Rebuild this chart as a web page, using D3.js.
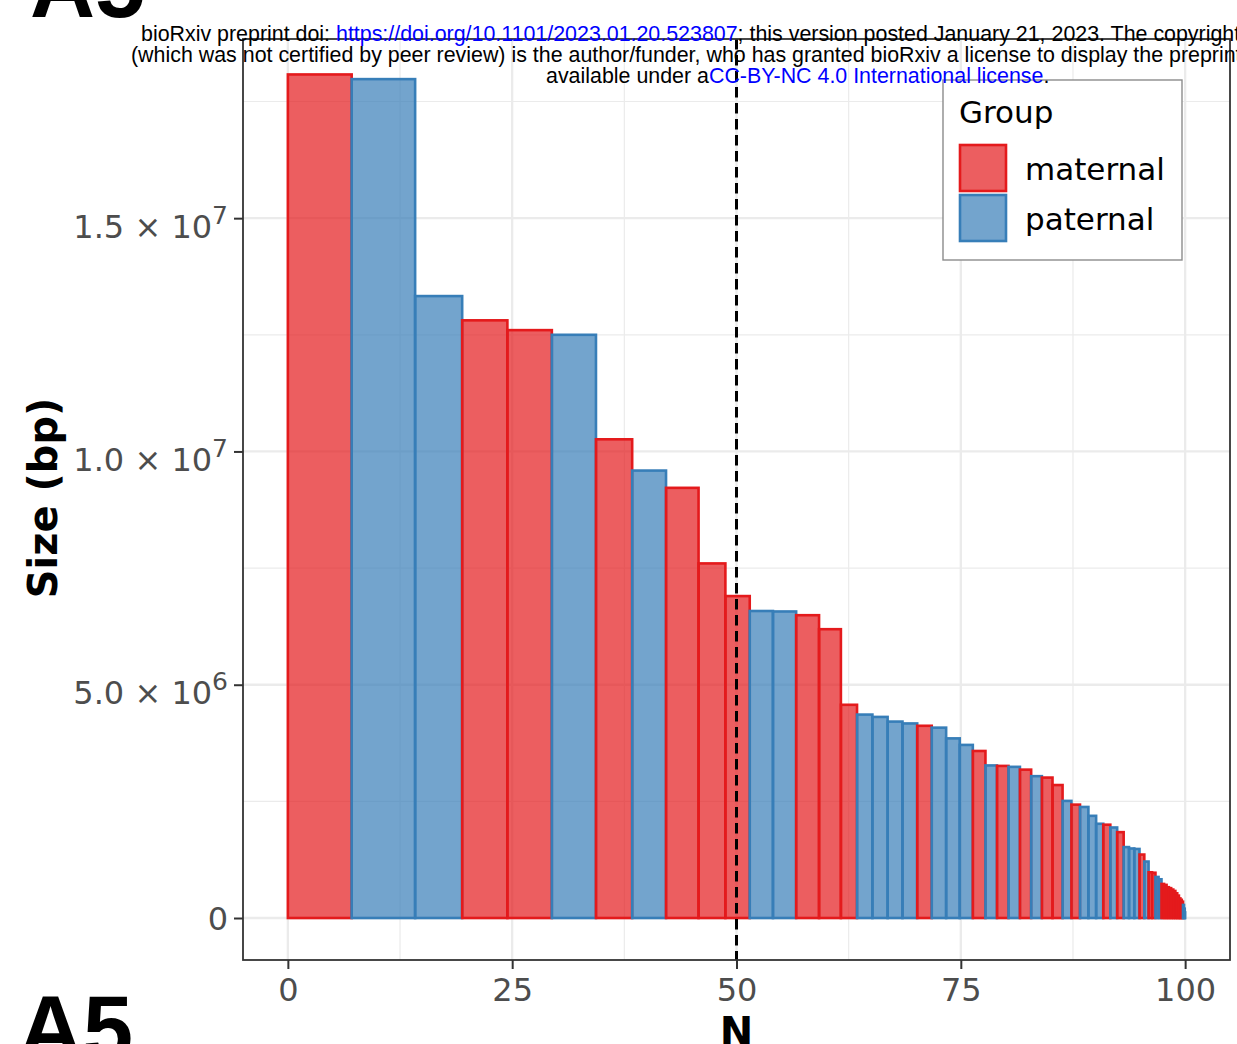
<!DOCTYPE html>
<html><head><meta charset="utf-8">
<script src="https://cdn.jsdelivr.net/npm/d3@7"></script>
<style>html,body{margin:0;padding:0;background:#fff;overflow:hidden}</style>
</head><body>
<script>
// ---------- data ----------
const groupNames = ["maternal", "paternal"];
const groupColors = ["#E41A1C", "#377EB8"];
// contig sizes (Mb), sorted descending
const contigSizesMb = [
  18.08, 17.98, 13.33, 12.81, 12.60, 12.50, 10.26, 9.59, 9.22, 7.60,
  6.90, 6.58, 6.57, 6.49, 6.19, 4.57, 4.36, 4.31, 4.21, 4.17,
  4.12, 4.08, 3.85, 3.71, 3.58, 3.27, 3.26, 3.24, 3.18, 3.04,
  3.01, 2.85, 2.51, 2.43, 2.38, 2.19, 2.02, 2.00, 1.94, 1.84,
  1.52, 1.49, 1.48, 1.36, 1.21, 0.98, 0.97, 0.88, 0.83,
  0.73, 0.71, 0.66, 0.64, 0.61, 0.58, 0.53, 0.48, 0.42, 0.39, 0.35,
  0.28, 0.20, 0.12
];
const contigGroups = [
  "maternal","paternal","paternal","maternal","maternal","paternal","maternal","paternal","maternal","maternal",
  "maternal","paternal","paternal","maternal","maternal","maternal","paternal","paternal","paternal","paternal",
  "maternal","paternal","paternal","paternal","maternal","paternal","maternal","paternal","maternal","paternal",
  "maternal","maternal","paternal","maternal","paternal","paternal","paternal","maternal","paternal","maternal",
  "paternal","paternal","paternal","maternal","paternal","maternal","maternal","paternal","paternal",
  "maternal","maternal","maternal","maternal","maternal","maternal","maternal","maternal","maternal","maternal","maternal",
  "paternal","paternal","paternal"
];
const xTicks = [0, 25, 50, 75, 100];
const xMinor = [12.5, 37.5, 62.5, 87.5];
const yTicks = [0, 5e6, 1e7, 1.5e7];
const yMinor = [2.5e6, 7.5e6, 1.25e7, 1.75e7];
const yTickMantissa = ["0", "5.0", "1.0", "1.5"];
const yTickExponent = ["", "6", "7", "7"];
const nLine = 50;
const xLimits = [-5, 105];
const yLimits = [-0.9e6, 18.84e6];

// ---------- layout ----------
const W = 1237, H = 1044;
const P = {l: 243, r: 1230, t: 39, b: 960};
const svg = d3.select("body").append("svg").attr("width", W).attr("height", H)
  .style("font-family", "'DejaVu Sans', sans-serif");

const x = d3.scaleLinear().domain(xLimits).range([P.l, P.r]);
const y = d3.scaleLinear().domain(yLimits).range([P.b, P.t]);
const color = d3.scaleOrdinal().domain(groupNames).range(groupColors);

// cumulative positions
const total = d3.sum(contigSizesMb);
let cum = 0;
const bars = contigSizesMb.map((s, i) => {
  const d = {x0: cum / total * 100, x1: (cum + s) / total * 100, size: s * 1e6, group: contigGroups[i]};
  cum += s;
  return d;
});

// panel background & grid
svg.append("rect").attr("x", P.l).attr("y", P.t).attr("width", P.r - P.l).attr("height", P.b - P.t).attr("fill", "#fff");
const grid = svg.append("g");
grid.selectAll(".xm").data(xMinor).join("line")
  .attr("x1", d => x(d)).attr("x2", d => x(d)).attr("y1", P.t).attr("y2", P.b)
  .attr("stroke", "#EBEBEB").attr("stroke-width", 1.2);
grid.selectAll(".ym").data(yMinor).join("line")
  .attr("y1", d => y(d)).attr("y2", d => y(d)).attr("x1", P.l).attr("x2", P.r)
  .attr("stroke", "#EBEBEB").attr("stroke-width", 1.2);
grid.selectAll(".xM").data(xTicks).join("line")
  .attr("x1", d => x(d)).attr("x2", d => x(d)).attr("y1", P.t).attr("y2", P.b)
  .attr("stroke", "#EBEBEB").attr("stroke-width", 2.3);
grid.selectAll(".yM").data(yTicks).join("line")
  .attr("y1", d => y(d)).attr("y2", d => y(d)).attr("x1", P.l).attr("x2", P.r)
  .attr("stroke", "#EBEBEB").attr("stroke-width", 2.3);

// bars
svg.append("g").selectAll("rect").data(bars).join("rect")
  .attr("x", d => x(d.x0)).attr("width", d => x(d.x1) - x(d.x0))
  .attr("y", d => y(d.size)).attr("height", d => y(0) - y(d.size))
  .attr("fill", d => color(d.group)).attr("fill-opacity", 0.7)
  .attr("stroke", d => color(d.group)).attr("stroke-width", 2.6);

// N50 dashed line
svg.append("line").attr("x1", x(nLine)).attr("x2", x(nLine)).attr("y1", P.t).attr("y2", P.b)
  .attr("stroke", "#000").attr("stroke-width", 3).attr("stroke-dasharray", "10.5,5.5");

// panel border
svg.append("rect").attr("x", P.l).attr("y", P.t).attr("width", P.r - P.l).attr("height", P.b - P.t)
  .attr("fill", "none").attr("stroke", "#333333").attr("stroke-width", 1.8);

// x axis
const xAxis = svg.append("g").attr("transform", `translate(0,${P.b})`)
  .call(d3.axisBottom(x).tickValues(xTicks).tickSize(9).tickFormat(d => String(d)));
xAxis.select(".domain").remove();
xAxis.selectAll(".tick line").attr("stroke", "#333333").attr("stroke-width", 2);
xAxis.selectAll(".tick text").attr("dy", null).attr("y", 41)
  .attr("fill", "#4D4D4D").style("font-size", "32px").style("font-family", "'DejaVu Sans', sans-serif");

// y axis
const yAxis = svg.append("g").attr("transform", `translate(${P.l},0)`)
  .call(d3.axisLeft(y).tickValues(yTicks).tickSize(9).tickPadding(6));
yAxis.select(".domain").remove();
yAxis.selectAll(".tick line").attr("stroke", "#333333").attr("stroke-width", 2);
yAxis.selectAll(".tick text").each(function(d, i) {
  const t = d3.select(this);
  const ex = yTickExponent[i];
  t.text(null).attr("dy", null).attr("y", ex ? 19 : 11)
    .attr("fill", "#4D4D4D").style("font-size", "32px").style("font-family", "'DejaVu Sans', sans-serif");
  t.append("tspan").text(yTickMantissa[i] + (ex ? " \u00D7 10" : ""));
  if (ex) t.append("tspan").attr("dy", -14).style("font-size", "25px").text(ex);
});

// axis titles
svg.append("text").attr("transform", "translate(57,498) rotate(-90)")
  .attr("text-anchor", "middle").style("font-size", "40px").style("font-weight", "bold")
  .attr("fill", "#000").text("Size (bp)");
svg.append("text").attr("x", x(50)).attr("y", 1046)
  .attr("text-anchor", "middle").style("font-size", "40px").style("font-weight", "bold")
  .attr("fill", "#000").text("N");

// legend
const lg = svg.append("g");
lg.append("rect").attr("x", 943).attr("y", 80).attr("width", 239).attr("height", 180)
  .attr("fill", "#fff").attr("stroke", "#8c8c8c").attr("stroke-width", 1.4);
lg.append("text").attr("x", 959).attr("y", 123).style("font-size", "31px").attr("fill", "#000").text("Group");
groupNames.forEach((g, i) => {
  lg.append("rect").attr("x", 960).attr("y", 145 + i * 50).attr("width", 46).attr("height", 46)
    .attr("fill", color(g)).attr("fill-opacity", 0.7).attr("stroke", color(g)).attr("stroke-width", 2.6);
  lg.append("text").attr("x", 1025).attr("y", 180 + i * 49.5).style("font-size", "31px").attr("fill", "#000").text(g);
});

// header overlay
const hdr = svg.append("g").style("font-family", "'Liberation Sans', Arial, sans-serif").style("font-size", "21.4px");
const l1 = hdr.append("text").attr("x", 141).attr("y", 41);
l1.append("tspan").attr("fill", "#000").text("bioRxiv preprint doi: ");
l1.append("tspan").attr("fill", "#0000FF").text("https://doi.org/10.1101/2023.01.20.523807");
l1.append("tspan").attr("fill", "#000").text("; this version posted January 21, 2023. The copyright holder for this preprint");
hdr.append("text").attr("x", 131).attr("y", 62).attr("fill", "#000")
  .text("(which was not certified by peer review) is the author/funder, who has granted bioRxiv a license to display the preprint in perpetuity. It is made");
const l3 = hdr.append("text").attr("x", 546).attr("y", 83);
l3.append("tspan").attr("fill", "#000").text("available under a");
l3.append("tspan").attr("fill", "#0000FF").text("CC-BY-NC 4.0 International license");
l3.append("tspan").attr("fill", "#000").text(".");

// panel letters from neighbouring figures
svg.append("text").attr("x", 30).attr("y", 17).style("font-family", "'Liberation Sans', Arial, sans-serif")
  .style("font-size", "90px").style("font-weight", "bold").attr("fill", "#000").text("A5");
svg.append("text").attr("x", 18).attr("y", 1059).style("font-family", "'Liberation Sans', Arial, sans-serif")
  .style("font-size", "90px").style("font-weight", "bold").attr("fill", "#000").text("A5");
</script>
</body></html>
